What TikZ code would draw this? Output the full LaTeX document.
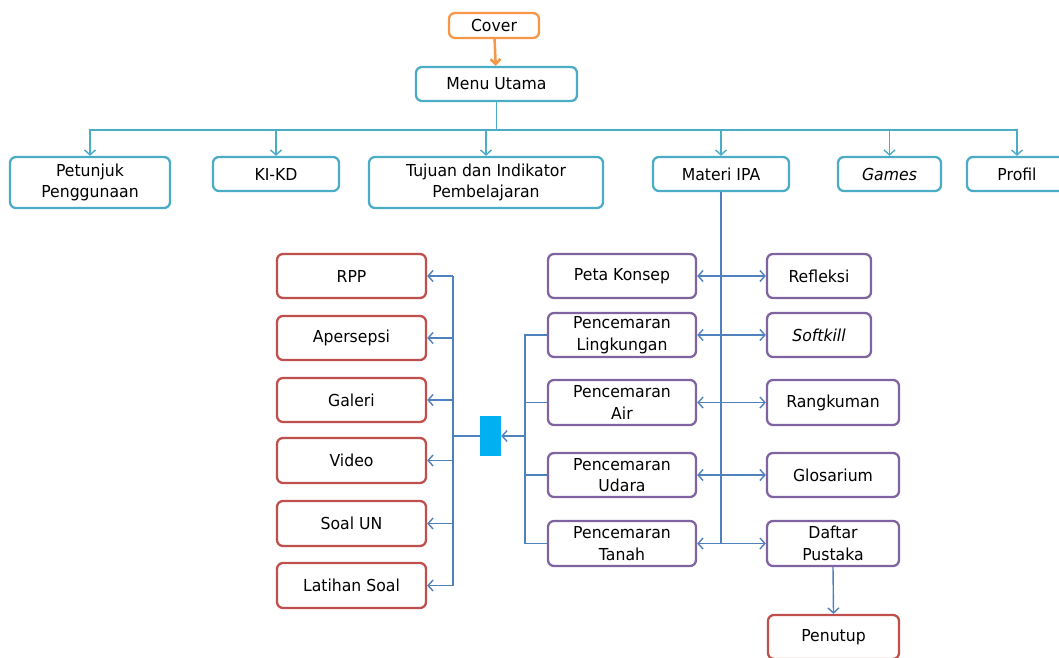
\documentclass[tikz,border=0pt]{standalone}
\usepackage{fontspec}
\setmainfont{DejaVu Sans}[FakeStretch=0.95]
\usetikzlibrary{arrows.meta}

\definecolor{cteal}{HTML}{4BACC6}
\definecolor{corange}{HTML}{F79646}
\definecolor{cblue}{HTML}{4F81BD}
\definecolor{cpurple}{HTML}{8064A2}
\definecolor{cred}{HTML}{C0504D}
\definecolor{ccyan}{HTML}{00B0F0}

\tikzset{
  box/.style={draw, rounded corners=6pt, line width=2.3pt, fill=white,
    align=center, inner sep=0pt,
    font=\fontsize{16.5}{21.5}\selectfont},
  tealbox/.style={box, draw=cteal},
  orangebox/.style={box, draw=corange},
  purplebox/.style={box, draw=cpurple},
  redbox/.style={box, draw=cred},
  barb/.tip={Straight Barb[length=5pt,width=11pt]},
  tealline/.style={draw=cteal, line width=1.4pt},
  tealarrow/.style={tealline, -barb},
  blueline/.style={draw=cblue, line width=1.4pt},
  bluearrow/.style={blueline, -barb},
  bluedouble/.style={blueline, barb-barb},
  coverarrow/.style={draw=corange, line width=2.5pt,
    -{Straight Barb[length=5pt,width=10pt]}},
}

\begin{document}
\begin{tikzpicture}[x=1pt,y=-1pt]
\path[use as bounding box, clip] (0,0) rectangle (1059,657);

% top level
\node[orangebox, minimum width=90pt, minimum height=25pt] (cover) at (494,25.5) {Cover};
\node[tealbox, minimum width=161pt, minimum height=34pt] (menu) at (496.5,84) {Menu Utama};

\node[tealbox, minimum width=160pt, minimum height=51pt] (petunjuk) at (90,182.5) {Petunjuk\\Penggunaan};
\node[tealbox, minimum width=126pt, minimum height=34pt] (kikd) at (276,174) {KI-KD};
\node[tealbox, minimum width=234pt, minimum height=51pt] (tujuan) at (486,182.5) {Tujuan dan Indikator\\Pembelajaran};
\node[tealbox, minimum width=136pt, minimum height=34pt] (materi) at (721,174) {Materi IPA};
\node[tealbox, minimum width=103pt, minimum height=34pt] (games) at (889.5,174) {\itshape Games};
\node[tealbox, minimum width=100pt, minimum height=34pt] (profil) at (1017,174) {Profil};

% Materi IPA branch: left column
\node[purplebox, minimum width=148pt, minimum height=44pt] (peta) at (622,276) {Peta Konsep};
\node[purplebox, minimum width=148pt, minimum height=44pt] (ling) at (622,335) {Pencemaran\\Lingkungan};
\node[purplebox, minimum width=148pt, minimum height=45pt] (air) at (622,402.5) {Pencemaran\\Air};
\node[purplebox, minimum width=148pt, minimum height=44pt] (udara) at (622,475) {Pencemaran\\Udara};
\node[purplebox, minimum width=148pt, minimum height=45pt] (tanah) at (622,543.5) {Pencemaran\\Tanah};

% Materi IPA branch: right column
\node[purplebox, minimum width=104pt, minimum height=44pt] (refleksi) at (819,276) {Refleksi};
\node[purplebox, minimum width=104pt, minimum height=44pt] (softkill) at (819,335) {\itshape Softkill};
\node[purplebox, minimum width=132pt, minimum height=45pt] (rangkuman) at (833,402.5) {Rangkuman};
\node[purplebox, minimum width=132pt, minimum height=44pt] (glosarium) at (833,475) {Glosarium};
\node[purplebox, minimum width=132pt, minimum height=45pt] (daftar) at (833,543.5) {Daftar\\Pustaka};
\node[redbox, minimum width=131pt, minimum height=44pt] (penutup) at (833.5,637) {Penutup};

% hub and learning material boxes
\node[fill=ccyan, minimum width=21pt, minimum height=40pt, inner sep=0pt] (hub) at (490.5,436) {};
\node[redbox, minimum width=149pt, minimum height=44pt] (rpp) at (351.5,276) {RPP};
\node[redbox, minimum width=149pt, minimum height=44pt] (apersepsi) at (351.5,338) {Apersepsi};
\node[redbox, minimum width=149pt, minimum height=44pt] (galeri) at (351.5,400) {Galeri};
\node[redbox, minimum width=149pt, minimum height=45pt] (video) at (351.5,460.5) {Video};
\node[redbox, minimum width=149pt, minimum height=45pt] (soalun) at (351.5,523.5) {Soal UN};
\node[redbox, minimum width=149pt, minimum height=45pt] (latihan) at (351.5,585.5) {Latihan Soal};

% helper coordinates for the buses
\coordinate (bus) at (0,130);
\coordinate (join) at (525,436);
\coordinate (spine) at (453,436);

% connectors: top level
\draw[coverarrow] (cover) -- (menu);
\draw[tealline] (menu.south) -- (menu.south |- bus);
\foreach \n in {petunjuk,kikd,tujuan,materi,games}
  \draw[tealarrow] (menu.south |- bus) -| (\n.north);
\draw[tealarrow] (menu.south |- bus) -| (profil.north);

% Materi IPA trunk with double arrows
\draw[blueline] (materi.south) -- (materi.south |- tanah.east);
\draw[bluedouble] (peta.east) -- (refleksi.west);
\draw[bluedouble] (ling.east) -- (softkill.west);
\draw[bluedouble] (air.east) -- (rangkuman.west);
\draw[bluedouble] (udara.east) -- (glosarium.west);
\draw[bluedouble] (tanah.east) -- (daftar.west);
\draw[bluearrow] (daftar.south) -- (penutup.north);

% pollution topics gathered into the hub
\draw[blueline] (ling.west) -| (join) |- (tanah.west);
\draw[blueline] (air.west) -- (air.west -| join);
\draw[blueline] (udara.west) -- (udara.west -| join);
\draw[bluearrow] (join) -- (hub.east);

% hub spreading to the learning materials
\draw[blueline] (hub.west) -- (spine);
\draw[blueline] (rpp.east -| spine) -- (latihan.east -| spine);
\foreach \n in {rpp,apersepsi,galeri,video,soalun,latihan}
  \draw[bluearrow] (\n.east -| spine) -- (\n.east);
\end{tikzpicture}
\end{document}
